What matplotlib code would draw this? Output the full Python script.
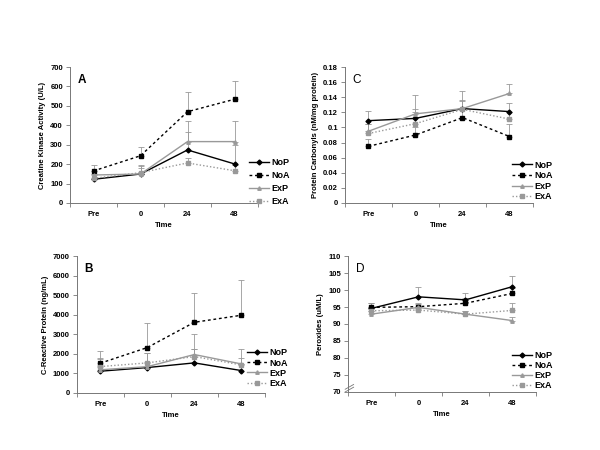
import matplotlib.pyplot as plt
from matplotlib.lines import Line2D

plt.rcParams['font.family'] = ['Liberation Sans', 'DejaVu Sans']
plt.rcParams['font.weight'] = 'bold'

times = ["Pre", "0", "24", "48"]
groups = ["NoP", "NoA", "ExP", "ExA"]

# A: Creatine kinase (U/L)
ck = {
    "NoP": [122, 149, 273, 201],
    "NoA": [165, 243, 470, 534],
    "ExP": [144, 149, 316, 316],
    "ExA": [127, 156, 206, 166],
}
ck_err = {
    "NoP": [25, 40, 95, 95],
    "NoA": [30, 45, 100, 94],
    "ExP": [20, 30, 108, 104],
    "ExA": [20, 38, 25, 30],
}

# B: C-reactive protein (ng/mL)
crp = {
    "NoP": [1108, 1294, 1533, 1141],
    "NoA": [1517, 2317, 3610, 3970],
    "ExP": [1180, 1340, 1960, 1480],
    "ExA": [1345, 1533, 1857, 1430],
}
crp_err = {
    "NoP": [250, 300, 700, 350],
    "NoA": [630, 1260, 1480, 1800],
    "ExP": [600, 700, 1060, 780],
    "ExA": [400, 500, 370, 340],
}

# C: protein carbonyls (nM/mg protein)
pc = {
    "NoP": [0.109, 0.112, 0.125, 0.121],
    "NoA": [0.075, 0.090, 0.113, 0.088],
    "ExP": [0.095, 0.118, 0.125, 0.145],
    "ExA": [0.092, 0.105, 0.124, 0.111],
}
pc_err = {
    "NoP": [0.013, 0.012, 0.010, 0.011],
    "NoA": [0.010, 0.010, 0.012, 0.017],
    "ExP": [0.010, 0.025, 0.023, 0.012],
    "ExA": [0.012, 0.015, 0.013, 0.010],
}

# D: peroxides (uM/L)
per = {
    "NoP": [94.6, 98.0, 97.1, 101.0],
    "NoA": [94.9, 95.1, 96.1, 99.0],
    "ExP": [92.9, 94.9, 92.9, 91.0],
    "ExA": [93.9, 94.1, 92.9, 94.0],
}
per_err = {
    "NoP": [1.5, 2.8, 2.0, 3.1],
    "NoA": [1.2, 1.0, 1.5, 1.5],
    "ExP": [1.0, 1.0, 1.0, 1.0],
    "ExA": [1.0, 1.0, 1.0, 2.1],
}

styles = {
    "NoP": dict(color="black", ls="-", marker="D", ms=2.5, mfc="black", mec="black"),
    "NoA": dict(color="black", ls=(0, (2, 2)), marker="s", ms=3.5, mfc="black", mec="black"),
    "ExP": dict(color="#999999", ls="-", marker="^", ms=2.5, mfc="#999999", mec="#999999"),
    "ExA": dict(color="#999999", ls=(0, (1, 1.5)), marker="s", ms=3.5, mfc="#999999", mec="#999999"),
}

fig = plt.figure(figsize=(6, 4.5), dpi=100)


def panel(rect, data, err, ylim, yticks, ylabel, letter, letter_bold, leg_anchor, leg_space, small_noa=False):
    ax = fig.add_axes(rect)
    x = list(range(len(times)))
    handles = []
    for g in groups:
        st = dict(styles[g])
        if small_noa and g == "NoA":
            st["ms"] = 2.5
        ax.errorbar(x, data[g], yerr=[[0] * 4, err[g]], ecolor="#999999",
                    elinewidth=0.6, capsize=2, capthick=0.6, lw=1, **st)
        handles.append(Line2D([], [], lw=1, label=g, **st))
    ax.set_xlim(-0.5, 3.5)
    ax.set_ylim(*ylim)
    ax.set_yticks(yticks)
    ax.set_yticklabels([f"{t:g}" for t in yticks])
    ax.set_xticks([-0.5, 0.5, 1.5, 2.5, 3.5])
    ax.set_xticklabels([])
    ax.set_xticks(x, minor=True)
    ax.set_xticklabels(times, minor=True)
    ax.tick_params(axis="x", which="minor", length=0, pad=6, labelsize=5.5)
    ax.tick_params(axis="x", which="major", length=3, width=0.6, color="#777777")
    ax.tick_params(axis="y", length=3, width=0.6, color="#777777", labelsize=5.5, pad=2)
    for s in ["top", "right"]:
        ax.spines[s].set_visible(False)
    for s in ["left", "bottom"]:
        ax.spines[s].set_color("#777777")
        ax.spines[s].set_linewidth(0.7)
    ax.set_xlabel("Time", fontsize=5.5, fontweight="bold", labelpad=3)
    ax.set_ylabel(ylabel, fontsize=5.5, fontweight="bold", labelpad=3)
    ax.text(0.04, 0.95, letter, transform=ax.transAxes, fontsize=8.5,
            fontweight="bold" if letter_bold else "normal", va="top")
    ax.legend(handles=handles, loc="center left", bbox_to_anchor=leg_anchor,
              bbox_transform=fig.transFigure, frameon=False, fontsize=6.5,
              handlelength=2.2, handletextpad=0.3, labelspacing=leg_space,
              borderpad=0, borderaxespad=0)
    return ax


axA = panel([0.1167, 0.549, 0.3133, 0.302], ck, ck_err, (0, 700), range(0, 701, 100),
            "Creatine Kinase Activity (U/L)", "A", True, (0.415, 0.596), 0.45)
axB = panel([0.128, 0.127, 0.3133, 0.304], crp, crp_err, (0, 7000), range(0, 7001, 1000),
            "C-Reactive Protein (ng/mL)", "B", True, (0.412, 0.182), 0.12)
axC = panel([0.575, 0.549, 0.3133, 0.302], pc, pc_err, (0, 0.18),
            [0, 0.02, 0.04, 0.06, 0.08, 0.1, 0.12, 0.14, 0.16, 0.18],
            "Protein Carbonyls (nM/mg protein)", "C", False, (0.853, 0.598), 0.17, small_noa=True)
axD = panel([0.58, 0.129, 0.3133, 0.302], per, per_err, (70, 110), range(70, 111, 5),
            "Peroxides (uM/L)", "D", False, (0.853, 0.176), 0.12, small_noa=True)

# axis break marks on D
for dy in (0.0, 0.02):
    axD.plot([-0.015, 0.03], [0.0 + dy, 0.035 + dy], transform=axD.transAxes,
             color="#777777", lw=0.6, clip_on=False)

fig.savefig("out.png", dpi=100)
